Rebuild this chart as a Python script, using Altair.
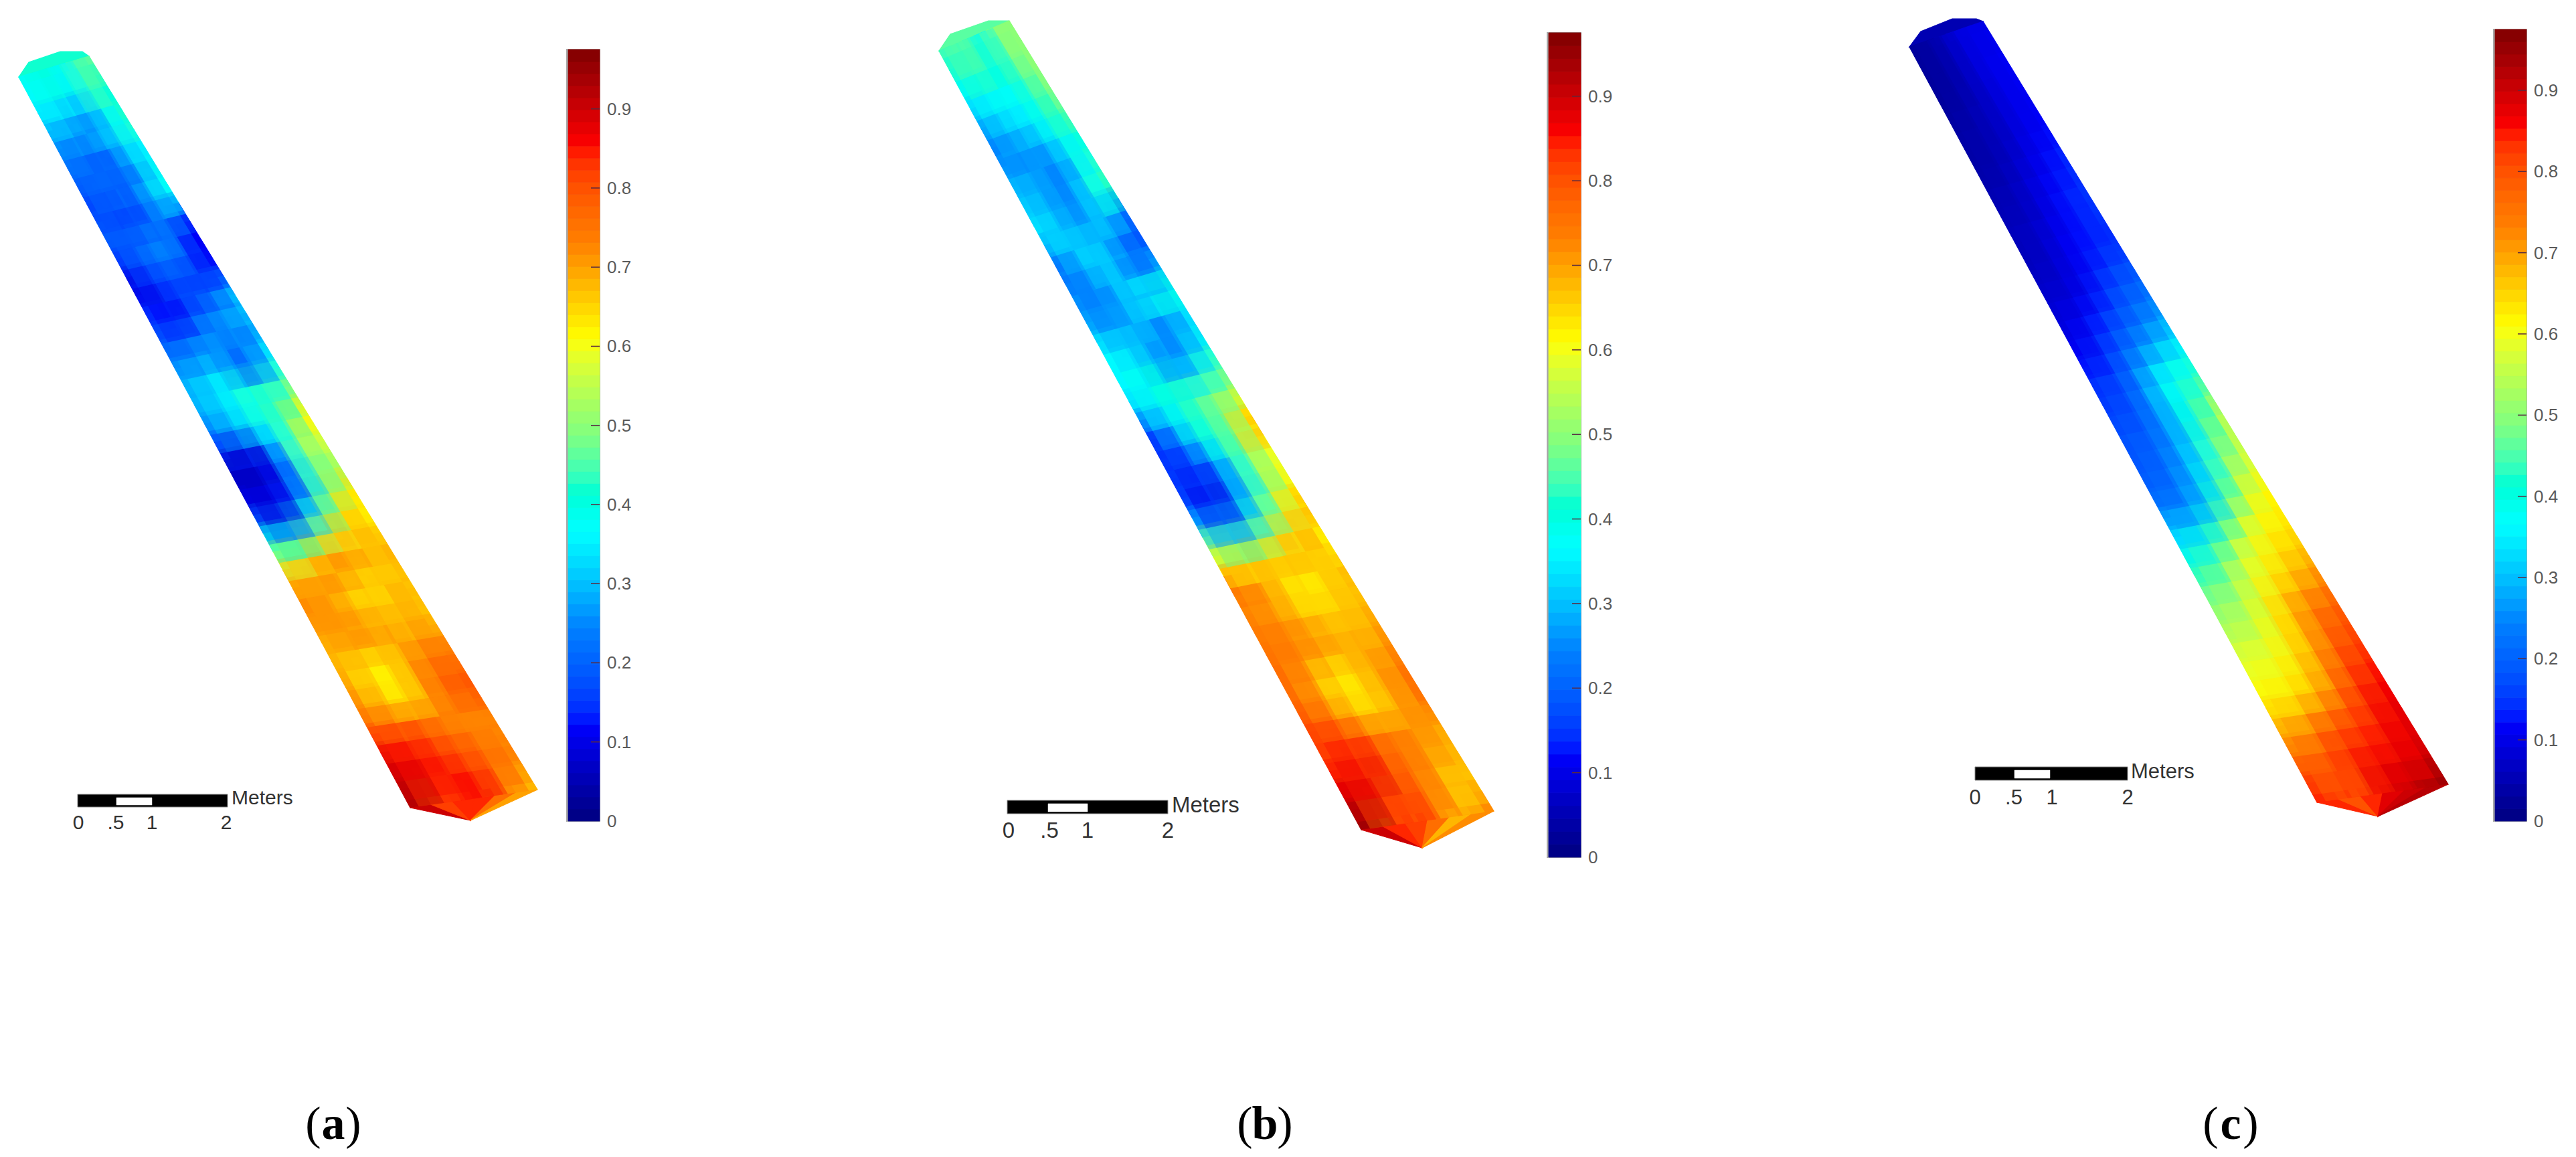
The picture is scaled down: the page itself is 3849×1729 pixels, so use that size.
import altair as alt

# ---------- readings (percent of the index, 40 rows down each strip, 6 across) ----------
grid_a = [
[38,40,40,36,44,46],[36,37,35,36,46,42],[33,30,26,25,36,40],[27,25,30,28,35,43],
[24,22,18,26,33,36],[21,20,22,17,27,34],[18,22,20,24,30,38],[16,19,14,22,28,36],
[20,17,19,20,24,18],[18,22,24,27,18,12],[14,18,20,23,16,11],[9,15,18,17,15,13],
[13,11,14,16,18,26],[15,12,18,23,27,32],[19,22,25,27,22,26],[24,25,27,24,22,30],
[28,34,33,20,19,36],[30,33,37,43,38,45],[28,33,38,44,42,52],[24,28,35,38,44,62],
[14,8,20,36,50,58],[6,6,14,34,48,54],[8,10,12,30,46,52],[10,7,22,38,50,64],
[22,16,30,44,66,62],[40,42,52,60,68,64],[56,64,70,72,68,68],[68,72,72,68,64,68],
[72,70,66,62,68,66],[72,70,68,66,68,68],[70,72,74,66,70,66],[68,68,66,68,72,72],
[68,62,64,70,76,74],[70,62,62,70,78,78],[72,66,64,72,76,80],[76,78,76,72,72,74],
[84,84,80,78,74,72],[88,86,82,80,76,74],[90,84,86,84,78,72],[92,82,84,86,76,68],
]
grid_b = [
[44,46,44,38,50,50],[40,44,42,40,48,50],[36,38,38,38,44,50],[30,34,36,36,42,48],
[26,30,30,36,40,46],[24,26,26,30,36,42],[28,28,26,22,34,38],[30,28,25,26,36,44],
[32,30,24,26,36,42],[34,32,27,30,32,24],[26,32,32,30,26,18],[21,28,34,27,18,20],
[26,24,29,31,28,30],[25,22,28,36,38,40],[30,28,32,26,25,34],[36,30,30,24,26,32],
[36,38,28,22,30,38],[36,40,42,34,38,46],[32,36,40,46,48,50],[18,32,40,44,48,62],
[14,22,36,42,52,68],[16,14,24,38,50,60],[14,10,20,34,46,58],[18,10,24,38,54,62],
[30,22,32,44,58,68],[50,44,48,60,70,64],[62,66,66,68,68,62],[76,70,66,62,64,68],
[72,70,64,62,66,66],[74,72,68,66,66,68],[74,74,72,70,66,70],[76,72,66,68,68,72],
[76,68,62,66,70,74],[76,70,62,64,68,76],[80,74,68,66,70,74],[82,84,76,74,72,70],
[82,86,78,76,72,68],[86,88,78,78,68,68],[90,82,80,80,66,66],[94,78,84,76,66,72],
]
grid_c = [
[3,4,6,9,10,10],[3,4,6,9,10,11],[3,4,6,8,10,11],[3,5,6,8,10,11],
[4,5,6,8,10,11],[4,5,6,9,10,12],[4,5,7,9,11,13],[5,6,8,10,12,14],
[5,6,8,11,13,14],[6,7,9,11,13,15],[6,7,10,12,13,14],[6,8,10,12,14,14],
[7,8,10,13,16,17],[8,9,12,15,18,20],[9,12,14,17,20,24],[10,13,17,20,24,27],
[12,15,19,24,28,33],[14,17,22,30,36,38],[15,18,25,35,38,43],[16,19,25,35,40,48],
[18,20,25,33,42,54],[18,21,26,35,44,54],[19,22,28,36,47,56],[20,22,30,40,52,58],
[24,26,32,44,56,62],[30,33,42,54,60,62],[35,42,52,58,62,64],[42,48,56,60,64,66],
[46,52,58,62,66,70],[50,54,60,66,70,74],[52,56,62,68,74,78],[56,58,62,68,76,80],
[58,60,64,70,78,82],[60,62,64,72,80,84],[62,64,68,76,82,86],[66,70,76,78,84,87],
[70,76,80,82,85,88],[76,80,84,84,86,88],[80,78,84,88,86,90],[84,78,84,88,90,94],
]
bottom_caps = {"a": [90,82,84,84,76,70], "b": [90,84,82,76,68,72], "c": [84,80,84,88,90,92]}
top_caps_value = {"a": 42, "b": 46, "c": 5}

# strip outlines on the sheet
outline = {
    "a": dict(Lt=(28,115),  Rt=(133,84),  Lb=(613,1207),  Rb=(803,1180),
              cap=[(28,115),(43,93),(90,77),(123,77),(133,84)], apex=(703,1226)),
    "b": dict(Lt=(1403,76), Rt=(1508,31), Lb=(2034,1240), Rb=(2232,1212),
              cap=[(1403,76),(1420,51),(1477,31),(1508,31)], apex=(2125,1267)),
    "c": dict(Lt=(2853,70), Rt=(2963,32), Lb=(3462,1199), Rb=(3658,1172),
              cap=[(2853,70),(2870,47),(2917,28),(2953,28),(2963,32)], apex=(3553,1220)),
}
grids = {"a": grid_a, "b": grid_b, "c": grid_c}

colorbar_box = {"a": (847,74,49,1153), "b": (2312,49,50,1232), "c": (3726,44,49,1183)}
colorbar_ticks = [0.1,0.2,0.3,0.4,0.5,0.6,0.7,0.8,0.9]
colorbar_labels = [0,0.1,0.2,0.3,0.4,0.5,0.6,0.7,0.8,0.9]
colorbar_steps = 64
index_max = 0.975

jet_stops = [0,0.122,0.244,0.366,0.488,0.61,0.731,0.853,0.975]
jet_colors = ["#000080","#0000ff","#0080ff","#00ffff","#80ff80","#ffff00","#ff8000","#ff0000","#800000"]

# scale bars
scalebars = {
    "a": dict(x0=116,x1=174,x2=227,x3=340,y0=1187,y1=1206,wy0=1192,wy1=1203,
              tx=[117,173,227,338],ty=1230,mx=346,my=1193,size=30),
    "b": dict(x0=1505,x1=1566,x2=1625,x3=1745,y0=1196,y1=1216,wy0=1201,wy1=1213,
              tx=[1507,1568,1625,1745],ty=1242,mx=1751,my=1204,size=33),
    "c": dict(x0=2951,x1=3010,x2=3063,x3=3179,y0=1146,y1=1166,wy0=1151,wy1=1163,
              tx=[2951,3009,3066,3179],ty=1193,mx=3184,my=1154,size=31),
}
scale_labels = ["0",".5","1","2"]
panel_letters = [("a",498),("b",1890),("c",3333)]
panel_y = 1681

# ---------- build ----------
M = 8
projection = dict(type="identity", scale=1, translate=[-M,-M])

def lerp(p,q,t):
    return (p[0]+(q[0]-p[0])*t, p[1]+(q[1]-p[1])*t)

def poly(pts, v=None):
    ring = [list(p) for p in pts]+[list(pts[0])]
    return {"type":"Feature","properties":{"v":v},"geometry":{"type":"Polygon","coordinates":[ring]}}

def clamp(t):
    return max(0.0, min(1.0, t))

def strip_features(key, grow=0.0):
    """Cells of one strip. grow widens each footprint by that share of a cell, kept inside the strip."""
    o, g = outline[key], grids[key]
    n, m = len(g), len(g[0])
    P = lambda s,u: lerp(lerp(o["Lt"],o["Lb"],s), lerp(o["Rt"],o["Rb"],s), u)
    feats = []
    for i,row in enumerate(g):
        for j,v in enumerate(row):
            s0,s1 = clamp((i-grow)/n), clamp((i+1+grow)/n)
            u0,u1 = clamp((j-grow)/m), clamp((j+1+grow)/m)
            feats.append(poly([P(s0,u0),P(s0,u1),P(s1,u1),P(s1,u0)], v/100))
    if grow == 0.0:
        feats.insert(0, poly(o["cap"], top_caps_value[key]/100))
        for j,v in enumerate(bottom_caps[key]):
            feats.append(poly([P(1,j/m),P(1,(j+1)/m),o["apex"]], v/100))
    return feats

def rect(x0,y0,x1,y1,v=None):
    return poly([(x0,y0),(x1,y0),(x1,y1),(x0,y1)], v)

layers = []
jet = alt.Scale(domain=jet_stops, range=jet_colors, clamp=True)
for key in "abc":
    layers.append(
        alt.Chart(alt.Data(values=strip_features(key))).mark_geoshape(strokeWidth=1.2)
        .encode(
            color=alt.Color("properties.v:Q", scale=jet, legend=None),
            stroke=alt.Stroke("properties.v:Q", scale=jet, legend=None),
        ).project(**projection)
    )
    # soft transitions between cells: each cell again, wider and translucent, in both drawing orders
    soft = strip_features(key, 0.6)
    for feats, op in ((soft, 0.42), (soft[::-1], 0.34)):
        layers.append(
            alt.Chart(alt.Data(values=feats)).mark_geoshape(opacity=op, strokeWidth=0)
            .encode(color=alt.Color("properties.v:Q", scale=jet, legend=None))
            .project(**projection)
        )

# colour bars: frame, stepped colour cells, ticks, labels
frames, cells, tick_feats, bar_text = [], [], [], []
for key in "abc":
    bx,by,bw,bh = colorbar_box[key]
    frames.append(rect(bx,by,bx+bw,by+bh))
    for k in range(colorbar_steps):
        v = index_max*(k+0.5)/colorbar_steps
        y1 = by+bh*(1-k/colorbar_steps)
        y0 = by+bh*(1-(k+1)/colorbar_steps)
        cells.append(rect(bx+2,y0,bx+bw,y1,v))
    for t in colorbar_ticks:
        y = by+bh*(1-t/index_max)
        tick_feats.append({"type":"Feature","properties":{},"geometry":{"type":"LineString",
            "coordinates":[[bx+bw-13,y],[bx+bw,y]]}})
    for t in colorbar_labels:
        bar_text.append(dict(x=bx+bw+11, y=by+bh*(1-t/index_max)+1, t=f"{t:g}"))
layers.append(alt.Chart(alt.Data(values=frames)).mark_geoshape(fill="#a8a8a8", stroke="#a8a8a8", strokeWidth=2).project(**projection))
layers.append(alt.Chart(alt.Data(values=cells)).mark_geoshape(strokeWidth=0.8)
              .encode(color=alt.Color("properties.v:Q", scale=jet, legend=None),
                      stroke=alt.Stroke("properties.v:Q", scale=jet, legend=None)).project(**projection))
layers.append(alt.Chart(alt.Data(values=tick_feats)).mark_geoshape(filled=False, stroke="#5a2a40", strokeWidth=1.5)
              .project(**projection))
layers.append(alt.Chart(alt.Data(values=bar_text)).mark_text(font="Liberation Sans", fontSize=26, color="#5a5a5a", align="left", baseline="middle")
              .encode(longitude="x:Q", latitude="y:Q", text="t:N").project(**projection))

# scale bars
black, white = [], []
sb_text = []
for key in "abc":
    s = scalebars[key]
    black.append(rect(s["x0"],s["y0"],s["x3"],s["y1"]))
    white.append(rect(s["x1"],s["wy0"],s["x2"],s["wy1"]))
    for lab,x in zip(scale_labels, s["tx"]):
        sb_text.append(dict(x=x, y=s["ty"], t=lab, size=s["size"], a="center"))
    sb_text.append(dict(x=s["mx"], y=s["my"], t="Meters", size=s["size"], a="left"))
layers.append(alt.Chart(alt.Data(values=black)).mark_geoshape(fill="#000000", stroke="#8a8a8a", strokeWidth=1).project(**projection))
layers.append(alt.Chart(alt.Data(values=white)).mark_geoshape(fill="#ffffff", stroke="#ffffff", strokeWidth=0.5).project(**projection))
for a in ["center","left"]:
    rows = [r for r in sb_text if r["a"]==a]
    layers.append(
        alt.Chart(alt.Data(values=rows)).mark_text(font="Liberation Sans", color="#333333", align=a, baseline="middle")
        .encode(longitude="x:Q", latitude="y:Q", text="t:N", size=alt.Size("size:Q", scale=None, legend=None))
        .project(**projection)
    )

# panel captions
par, let = [], []
for l,cx in panel_letters:
    par.append(dict(x=cx-30,y=panel_y,t="("))
    par.append(dict(x=cx+30,y=panel_y,t=")"))
    let.append(dict(x=cx,y=panel_y,t=l))
layers.append(alt.Chart(alt.Data(values=par)).mark_text(font="Liberation Serif", fontSize=70, color="#000000", baseline="middle")
              .encode(longitude="x:Q", latitude="y:Q", text="t:N").project(**projection))
layers.append(alt.Chart(alt.Data(values=let)).mark_text(font="Liberation Serif", fontWeight="bold", fontSize=70, color="#000000", baseline="middle")
              .encode(longitude="x:Q", latitude="y:Q", text="t:N").project(**projection))

chart = (
    alt.layer(*layers)
    .properties(width=3833, height=1713, padding=0, autosize=alt.AutoSizeParams(type="none"), background="white")
    .configure_view(stroke=None)
)
chart.save("out.html", embed_options={"renderer": "svg", "actions": False})
